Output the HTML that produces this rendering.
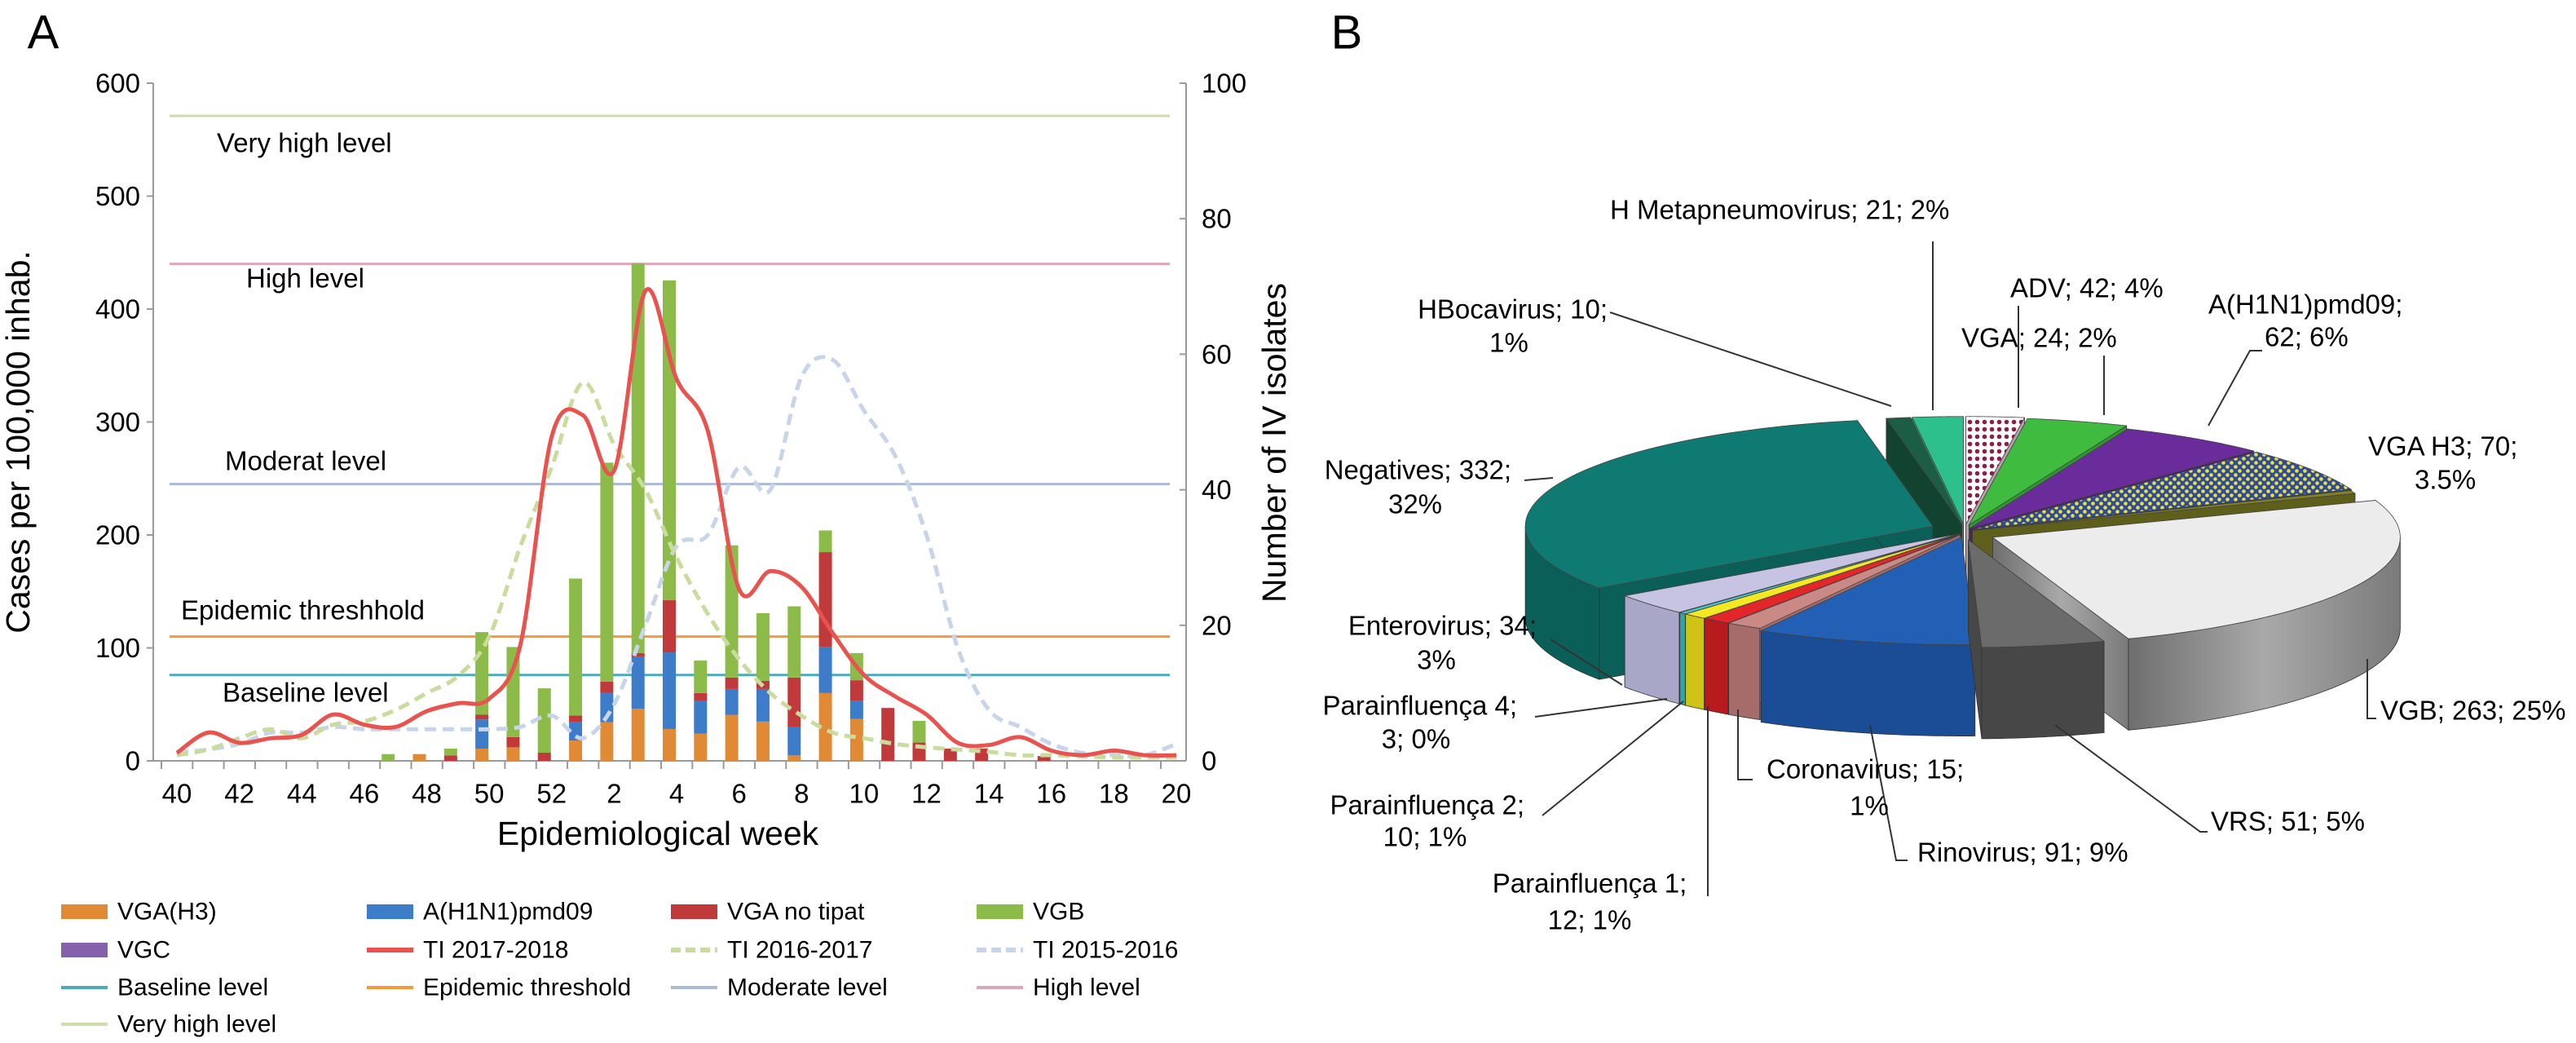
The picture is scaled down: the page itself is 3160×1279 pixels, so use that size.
<!DOCTYPE html>
<html><head><meta charset="utf-8">
<style>
html,body{margin:0;padding:0;background:#fff;}
svg{display:block;font-family:"Liberation Sans",Arial,sans-serif;}
</style></head>
<body>
<svg id="fig" width="3160" height="1279" viewBox="0 0 3160 1279" xmlns="http://www.w3.org/2000/svg">
<defs>
<pattern id="dotsVGA" width="9" height="9" patternUnits="userSpaceOnUse"><rect width="9" height="9" fill="#fff"/><circle cx="4.5" cy="4.5" r="2.8" fill="#8a1f4a"/></pattern>
<pattern id="checkH3" width="10" height="10" patternUnits="userSpaceOnUse"><rect width="10" height="10" fill="#2f4a9a"/><circle cx="2.5" cy="2.5" r="2.3" fill="#e8e23a"/><circle cx="7.5" cy="7.5" r="2.3" fill="#e8e23a"/></pattern>
<linearGradient id="gVGBside" x1="0" x2="1" y1="0" y2="0"><stop offset="0" stop-color="#6e6e6e"/><stop offset="0.5" stop-color="#a9a9a9"/><stop offset="1" stop-color="#7a7a7a"/></linearGradient>
</defs>
<text x="53" y="40" font-size="58" text-anchor="middle" dominant-baseline="central">A</text>
<text x="1652" y="40" font-size="58" text-anchor="middle" dominant-baseline="central">B</text>
<g id="chartA"></g>
<g id="legendA"></g>
<g id="pieB"></g>
</svg>
<script>
// ---------- Chart A data ----------
const weekLabels = [40,41,42,43,44,45,46,47,48,49,50,51,52,1,2,3,4,5,6,7,8,9,10,11,12,13,14,15,16,17,18,19,20];
const leftTicks = [0,100,200,300,400,500,600];
const rightTicks = [0,20,40,60,80,100];
const isoVGAH3 = [0,0,0,0,0,0,0,0,1,0,1.8,2,0,3,5.7,7.7,4.7,4,6.8,5.8,0.8,10,6.2,0,0,0,0,0,0,0,0,0,0];
const isoH1N1  = [0,0,0,0,0,0,0,0,0,0,4.3,0,0,2.7,4.3,7.7,11.3,4.8,3.8,4.8,4.2,6.8,2.7,0,0,0,0,0,0,0,0,0,0];
const isoVGAnt = [0,0,0,0,0,0,0,0,0,0.8,0.7,1.5,1.2,1,1.7,0.5,7.7,1.2,1.7,1.2,7.3,14,3,7.8,2.7,1.8,1.8,0,0.7,0,0,0,0];
const isoVGB   = [0,0,0,0,0,0,0,1,0,1,12.2,13.3,9.5,20.2,32.3,57.5,47.2,4.8,19.5,10,10.5,3.2,4,0,3.2,0,0,0,0,0,0,0,0];
const ti1718 = [7,25,16,20,23,41,32,30,44,51,55,103,287,306,257,416,338,292,152,168,154,113,76,57,41,16,14,21,9,5,9,5,5];
const ti1617 = [5,10,20,28,20,32,35,45,60,75,110,190,260,335,280,240,180,130,90,60,40,25,20,15,12,10,8,5,5,4,3,3,3];
const ti1516 = [8,10,15,25,25,30,28,28,28,28,28,30,40,20,50,120,190,200,260,240,340,355,310,270,200,100,45,30,15,7,5,5,15];
const levelNames = ["Very high level","High level","Moderat level","Epidemic threshhold","Baseline level"];
const levelValues = [571,440,245,110,76];
const levelColors = ["#cfdcae","#dba7b6","#adbad6","#f39a3c","#4aacb8"];

// ---------- Pie data ----------
const pieNames = ["VGA","ADV","A(H1N1)pmd09","VGA H3","VGC","VGB","VRS","Rinovirus","Coronavirus","Parainfluença 1","Parainfluença 2","Parainfluença 4","Enterovirus","Negatives","HBocavirus","H Metapneumovirus"];
const pieValues = [24,42,62,70,5,263,51,91,15,12,10,3,34,332,10,21];

const NS="http://www.w3.org/2000/svg";
function mk(tag,attrs,parent){const e=document.createElementNS(NS,tag);for(const k in attrs)e.setAttribute(k,attrs[k]);parent.appendChild(e);return e;}

// ---------- Chart A ----------
const A=document.getElementById('chartA');
const X0=217,X1=1443,Y0=933,YT=102,AXL=188,AXR=1455;
function xW(i){return X0+i*(X1-X0)/(weekLabels.length-1);}
function yL(v){return Y0-v*(Y0-YT)/600;}
function yR(v){return Y0-v*(Y0-YT)/100;}

let e;
e=mk('line',{x1:AXL,y1:YT,x2:AXL,y2:Y0,stroke:'#9a9a9a','stroke-width':2},A);


e=mk('line',{x1:AXR,y1:YT,x2:AXR,y2:Y0,stroke:'#9a9a9a','stroke-width':2},A);


e=mk('line',{x1:AXL,y1:Y0,x2:AXR,y2:Y0,stroke:'#9a9a9a','stroke-width':2},A);



leftTicks.forEach(v=>{
  mk('line',{x1:AXL-8,y1:yL(v),x2:AXL,y2:yL(v),stroke:'#9a9a9a','stroke-width':2},A);
  e=mk('text',{x:172,y:yL(v),'font-size':33,'text-anchor':'end','dominant-baseline':'central'},A);
  e.textContent=v;
  
  
});
rightTicks.forEach(v=>{
  mk('line',{x1:AXR-8,y1:yR(v),x2:AXR,y2:yR(v),stroke:'#9a9a9a','stroke-width':2},A);
  e=mk('text',{x:1474,y:yR(v),'font-size':33,'text-anchor':'start','dominant-baseline':'central'},A);
  e.textContent=v;
  
  
});
weekLabels.forEach((w,i)=>{
  mk('line',{x1:xW(i)-19,y1:Y0,x2:xW(i)-19,y2:Y0+10,stroke:'#9a9a9a','stroke-width':2},A);
  if(i%2===0){
    e=mk('text',{x:xW(i),y:973,'font-size':33,'text-anchor':'middle','dominant-baseline':'central'},A);
    e.textContent=w;
    
    
  }
});

// level lines
const levelLabelPos=[[266,175],[302,341],[276,565],[222,748],[273,849]];
levelValues.forEach((v,k)=>{
  e=mk('line',{x1:208,y1:yL(v),x2:1435,y2:yL(v),stroke:levelColors[k],'stroke-width':3},A);
  
  
  e=mk('text',{x:levelLabelPos[k][0],y:levelLabelPos[k][1],'font-size':33,'dominant-baseline':'central'},A);
  e.textContent=levelNames[k];
  
  
});

// stacked bars (right axis)
const stacks=[[isoVGAH3,'#e08a35'],[isoH1N1,'#3d7cc9'],[isoVGAnt,'#c0393b'],[isoVGB,'#8dbb4a']];
weekLabels.forEach((w,i)=>{
  let acc=0;
  stacks.forEach(([arr,col])=>{
    const v=arr[i]; if(!v) return;
    const yTop=yR(acc+v), yBot=yR(acc);
    e=mk('rect',{x:xW(i)-9-8,y:yTop,width:16,height:yBot-yTop,fill:col},A);
    
    
    acc+=v;
  });
});

function smoothPath(vals){
  const p=vals.map((v,i)=>[xW(i),yL(v)]);
  let d=`M${p[0][0]},${p[0][1]}`;
  for(let i=0;i<p.length-1;i++){
    const p0=p[i-1]||p[i],p1=p[i],p2=p[i+1],p3=p[i+2]||p[i+1];
    const c1=[p1[0]+(p2[0]-p0[0])/6,p1[1]+(p2[1]-p0[1])/6];
    const c2=[p2[0]-(p3[0]-p1[0])/6,p2[1]-(p3[1]-p1[1])/6];
    d+=` C${c1[0]},${c1[1]} ${c2[0]},${c2[1]} ${p2[0]},${p2[1]}`;
  }
  return d;
}
e=mk('path',{d:smoothPath(ti1516),fill:'none',stroke:'#c7d4ea','stroke-width':5,'stroke-dasharray':'14,8'},A);


e=mk('path',{d:smoothPath(ti1617),fill:'none',stroke:'#cadb9e','stroke-width':5,'stroke-dasharray':'14,8'},A);


e=mk('path',{d:smoothPath(ti1718),fill:'none',stroke:'#e8534f','stroke-width':5},A);



e=mk('text',{x:807,y:1022,'font-size':41,'text-anchor':'middle','dominant-baseline':'central'},A);
e.textContent='Epidemiological week';


e=mk('text',{x:0,y:0,'font-size':41,'text-anchor':'middle','dominant-baseline':'central',transform:'translate(22,542) rotate(-90)'},A);
e.textContent='Cases per 100,000 inhab.';


e=mk('text',{x:0,y:0,'font-size':41,'text-anchor':'middle','dominant-baseline':'central',transform:'translate(1563,543) rotate(-90)'},A);
e.textContent='Number of IV isolates';



// ---------- Legend ----------
const L=document.getElementById('legendA');
const legendItems=[
 ['VGA(H3)','rect','#e08a35'],['A(H1N1)pmd09','rect','#3d7cc9'],['VGA no tipat','rect','#c0393b'],['VGB','rect','#8dbb4a'],
 ['VGC','rect','#8560ad'],['TI 2017-2018','line','#e8534f'],['TI 2016-2017','dash','#cadb9e'],['TI 2015-2016','dash','#c7d4ea'],
 ['Baseline level','thin','#4aacb8'],['Epidemic threshold','thin','#f39a3c'],['Moderate level','thin','#adbad6'],['High level','thin','#dba7b6'],
 ['Very high level','thin','#cfdcae']];
const colX=[75,450,823,1198], rowY=[1118,1165,1211,1256];
legendItems.forEach((it,k)=>{
  const cx=colX[k%4], cy=rowY[Math.floor(k/4)];
  const g=mk('g',{},L);
  
  
  if(it[1]==='rect') mk('rect',{x:cx,y:cy-9,width:57,height:18,fill:it[2]},g);
  else if(it[1]==='line') mk('line',{x1:cx,y1:cy,x2:cx+57,y2:cy,stroke:it[2],'stroke-width':6},g);
  else if(it[1]==='dash') mk('line',{x1:cx,y1:cy,x2:cx+57,y2:cy,stroke:it[2],'stroke-width':6,'stroke-dasharray':'12,6'},g);
  else mk('line',{x1:cx,y1:cy,x2:cx+57,y2:cy,stroke:it[2],'stroke-width':4},g);
  const t=mk('text',{x:cx+69,y:cy,'font-size':30,'dominant-baseline':'central'},g);
  t.textContent=it[0];
});

// ---------- Pie B ----------
const P=document.getElementById('pieB');
const PCX=2410,PCY=652,RX=500,RY=132,DEPTH=112;
const topFill=['url(#dotsVGA)','#3fbb3f','#6a2c9a','url(#checkH3)','#7f7f26','#ececec','#6b6b6b','#2160b4','#c98a86','#e3262a','#f4e823','#49c6d0','#c6c4e2','#0f7a72','#1b5e45','#2dbf8c'];
const sideFill=['#b9a0ac','#2e9a2e','#4d1f74','#2a3f80','#5f5f1c','url(#gVGBside)','#474747','#1a4d96','#a66c69','#b81b1e','#cfc316','#32a2ab','#a9a7c8','#0b5f59','#124331','#1f9a70'];
const explode=[22,20,12,12,10,38,24,16,10,10,10,10,10,42,22,22];
const total=pieValues.reduce((a,b)=>a+b,0);
const slices=[];let acc=0;
pieValues.forEach((v,k)=>{const a0=acc/total*2*Math.PI;acc+=v;const a1=acc/total*2*Math.PI;slices.push({k,a0,a1,m:(a0+a1)/2});});
function pt(a,ox,oy,dz){return [PCX+ox+RX*Math.sin(a),PCY+oy-RY*Math.cos(a)+(dz||0)];}
slices.sort((s,t)=>(-Math.cos(s.m))-(-Math.cos(t.m)));
slices.forEach(s=>{
  const k=s.k;
  const ox=explode[k]*Math.sin(s.m), oy=-explode[k]*Math.cos(s.m)*RY/RX*1.6;
  const g=mk('g',{},P);
  
  
  const c=[PCX+ox,PCY+oy];
  // radial faces
  [s.a0,s.a1].forEach(a=>{
    const p=pt(a,ox,oy);
    mk('path',{d:`M${c[0]},${c[1]} L${p[0]},${p[1]} L${p[0]},${p[1]+DEPTH} L${c[0]},${c[1]+DEPTH} Z`,fill:sideFill[k],stroke:'#333','stroke-width':0.8},g);
  });
  // outer wall (front half)
  const lo=Math.max(s.a0,Math.PI/2), hi=Math.min(s.a1,3*Math.PI/2);
  if(hi>lo){
    let d='',n=40;
    for(let j=0;j<=n;j++){const a=lo+(hi-lo)*j/n;const p=pt(a,ox,oy);d+=(j?'L':'M')+p[0]+','+p[1]+' ';}
    for(let j=n;j>=0;j--){const a=lo+(hi-lo)*j/n;const p=pt(a,ox,oy,DEPTH);d+='L'+p[0]+','+p[1]+' ';}
    mk('path',{d:d+'Z',fill:sideFill[k],stroke:'#333','stroke-width':0.8},g);
  }
  // top face
  let d=`M${c[0]},${c[1]} `;const n=60;
  for(let j=0;j<=n;j++){const a=s.a0+(s.a1-s.a0)*j/n;const p=pt(a,ox,oy);d+='L'+p[0]+','+p[1]+' ';}
  mk('path',{d:d+'Z',fill:topFill[k],stroke:'#444','stroke-width':0.8},g);
});

// leader lines
const leaders=[
 [[2371,296],[2371,503]],[[1975,383],[2320,498]],[[2476,375],[2476,500]],[[2581,436],[2581,509]],
 [[2775,430],[2760,430],[2709,522]],[[1870,589],[1905,586]],[[1902,784],[1990,840]],[[1883,879],[2045,857]],
 [[1892,1000],[2065,860]],[[2095,866],[2095,1099]],[[2132,870],[2132,956],[2150,956]],[[2294,889],[2326,1055],[2340,1055]],
 [[2521,889],[2699,1020],[2708,1020]],[[2904,808],[2904,881],[2915,881]]];
leaders.forEach(pts=>{
  e=mk('polyline',{points:pts.map(p=>p.join(',')).join(' '),fill:'none',stroke:'#333','stroke-width':2},P);
  
  
});

// labels: [text, x, y, anchor]
const pieLabels=[
 ['H Metapneumovirus; 21; 2%',1975,257,'start'],
 ['HBocavirus; 10;',1972,379,'end'],['1%',1851,420,'middle'],
 ['ADV; 42; 4%',2466,353,'start'],
 ['VGA; 24; 2%',2406,414,'start'],
 ['A(H1N1)pmd09;',2709,373,'start'],['62; 6%',2778,413,'start'],
 ['VGA  H3; 70;',2905,547,'start'],['3.5%',2962,588,'start'],
 ['Negatives; 332;',1854,576,'end'],['32%',1736,618,'middle'],
 ['Enterovirus; 34;',1885,767,'end'],['3%',1762,809,'middle'],
 ['Parainfluença 4;',1861,865,'end'],['3; 0%',1737,906,'middle'],
 ['Parainfluença 2;',1870,987,'end'],['10; 1%',1748,1026,'middle'],
 ['Parainfluença 1;',1950,1083,'middle'],['12; 1%',1950,1128,'middle'],
 ['Coronavirus; 15;',2167,943,'start'],['1%',2293,988,'middle'],
 ['Rinovirus; 91; 9%',2352,1045,'start'],
 ['VRS; 51; 5%',2712,1007,'start'],
 ['VGB; 263; 25%',2920,871,'start']];
pieLabels.forEach(l=>{
  e=mk('text',{x:l[1],y:l[2],'font-size':33,'text-anchor':l[3],'dominant-baseline':'central','xml:space':'preserve'},P);
  e.textContent=l[0];
  
  
});
</script>
</body></html>
